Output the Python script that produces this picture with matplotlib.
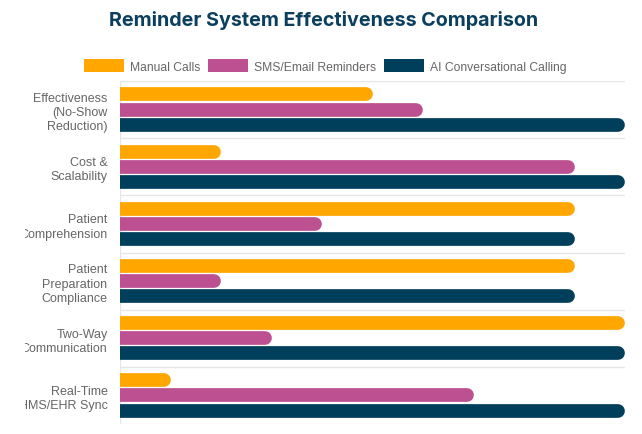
import matplotlib.pyplot as plt
from matplotlib.patches import Patch, Rectangle
import numpy as np


categories = [
    "Effectiveness\n(No-Show\nReduction)",
    "Cost &\nScalability",
    "Patient\nComprehension",
    "Patient\nPreparation\nCompliance",
    "Two-Way\nCommunication",
    "Real-Time\nHMS/EHR Sync",
]
series_names = ["Manual Calls", "SMS/Email Reminders", "AI Conversational Calling"]
manual_calls = [5, 2, 9, 9, 10, 1]
sms_email = [6, 9, 4, 2, 3, 7]
ai_calling = [10, 10, 9, 9, 10, 10]
colors = ["#ffa600", "#bc5090", "#003f5c"]

X_MAX = 10
TEXT_GRAY = "#666666"
GRID_GRAY = "#e6e6e6"


def main():
    plt.rcParams["font.family"] = ["Liberation Sans", "DejaVu Sans"]

    fig = plt.figure(figsize=(6.42, 4.35), dpi=100)
    fig_w, fig_h = 642, 435
    left, right, top, bottom = 120, 625, 82, 425
    ax = fig.add_axes([left / fig_w, 1 - bottom / fig_h,
                       (right - left) / fig_w, (bottom - top) / fig_h])

    n = len(categories)
    y = np.arange(n)
    slot = 0.8 / 3
    bar_px = (bottom - top) / n * slot * 0.9
    bar_pt = bar_px * 72 / fig.dpi
    # half the bar thickness in data units, so the round cap ends on the value
    cap = (bar_px / 2) / ((right - left) / X_MAX)

    all_series = [manual_calls, sms_email, ai_calling]
    for i, (values, color) in enumerate(zip(all_series, colors)):
        offset = (i - 1) * slot
        values = np.array(values, dtype=float)
        lines = ax.hlines(y + offset, 0, values - cap, colors=color,
                          linewidth=bar_pt, zorder=3)
        lines.set_capstyle("round")

    ax.set_xlim(0, X_MAX)
    ax.set_ylim(n - 0.5, -0.5)

    for b in np.arange(n + 1) - 0.5:
        ax.axhline(b, color=GRID_GRAY, linewidth=1, zorder=1)
    ax.axvline(0, color=GRID_GRAY, linewidth=1, zorder=1)

    for spine in ax.spines.values():
        spine.set_visible(False)
    ax.set_xticks([])
    ax.set_yticks(y)
    ax.set_yticklabels(categories, color=TEXT_GRAY, fontsize=9,
                       linespacing=1.25)
    ax.tick_params(axis="y", length=0, pad=9)

    # the original cuts long labels off at a fixed width
    fig.add_artist(Rectangle((0, 0), 25 / fig_w, 1 - 80 / fig_h,
                             transform=fig.transFigure, facecolor="white",
                             edgecolor="none", zorder=5))

    fig.text(324 / fig_w, 1 - 20 / fig_h,
             "Reminder System Effectiveness Comparison",
             ha="center", va="center", fontsize=14.2, fontweight="bold",
             color="#0b3f5e", family=["Inter", "DejaVu Sans"])

    handles = [Patch(facecolor=c, edgecolor="none") for c in colors]
    fig.legend(handles, series_names, loc="center", ncol=3,
               bbox_to_anchor=(325 / fig_w, 1 - 67 / fig_h), frameon=False,
               fontsize=8.7, labelcolor=TEXT_GRAY, handlelength=3.3,
               handleheight=1.2, handletextpad=0.5, columnspacing=0.65)

    plt.savefig("out.png", dpi=100)
    plt.close()


if __name__ == "__main__":
    main()
